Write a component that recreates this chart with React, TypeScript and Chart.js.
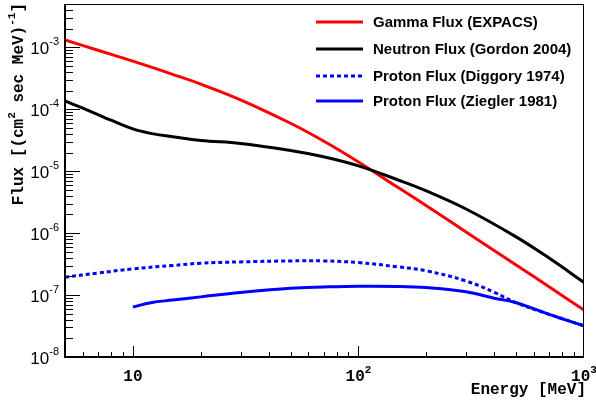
import { useEffect, useRef } from "react";
import { Chart, registerables } from "chart.js";

Chart.register(...registerables);

// ---- data ----
const gammaEnergy = [5, 7, 10, 15, 20, 30, 50, 70, 100, 150, 200, 300, 500, 700, 1000];
const gammaFlux = [1.31e-3, 8.95e-4, 5.97e-4, 3.66e-4, 2.54e-4, 1.42e-4, 5.94e-5, 3.07e-5, 1.41e-5, 5.43e-6, 2.77e-6, 1.045e-6, 3.07e-7, 1.36e-7, 5.73e-8];

const neutronEnergy = [5, 6, 7, 8, 10, 12, 15, 20, 30, 50, 70, 100, 150, 200, 300, 500, 700, 1000];
const neutronFlux = [1.366e-4, 1.038e-4, 8.18e-5, 6.65e-5, 4.81e-5, 4.08e-5, 3.61e-5, 3.13e-5, 2.8e-5, 2.16e-5, 1.71e-5, 1.22e-5, 7.21e-6, 4.8e-6, 2.45e-6, 8.69e-7, 3.95e-7, 1.6e-7];

const diggoryEnergy = [5, 7, 10, 15, 20, 30, 50, 70, 100, 150, 200, 300, 400, 500, 700, 1000];
const diggoryFlux = [1.945e-7, 2.265e-7, 2.65e-7, 3.0e-7, 3.27e-7, 3.43e-7, 3.56e-7, 3.56e-7, 3.34e-7, 2.85e-7, 2.46e-7, 1.69e-7, 1.107e-7, 7.53e-8, 4.89e-8, 3.18e-8];

const zieglerEnergy = [10, 12, 15, 20, 30, 50, 70, 100, 150, 200, 300, 400, 500, 700, 1000];
const zieglerFlux = [6.4e-8, 7.53e-8, 8.3e-8, 9.35e-8, 1.1e-7, 1.29e-7, 1.35e-7, 1.39e-7, 1.38e-7, 1.32e-7, 1.13e-7, 8.91e-8, 7.53e-8, 4.89e-8, 3.18e-8];

const seriesLabels = [
  "Gamma Flux (EXPACS)",
  "Neutron Flux (Gordon 2004)",
  "Proton Flux (Diggory 1974)",
  "Proton Flux (Ziegler 1981)",
];

const xMin = 5;
const xMax = 1000;
const yMin = 1e-8;
const yMax = 5e-3;

const xLabelValues = [10, 100, 1000];
const xLabelExponents = ["", "2", "3"];
const yLabelValues = [1e-8, 1e-7, 1e-6, 1e-5, 1e-4, 1e-3];
const yLabelExponents = ["-8", "-7", "-6", "-5", "-4", "-3"];

const xTitle = "Energy [MeV]";
const yTitleParts: [string, boolean][] = [
  ["Flux [(cm", false],
  ["2", true],
  [" sec MeV)", false],
  ["-1", true],
  ["]", false],
];

const toPoints = (xs: number[], ys: number[]) => xs.map((x, i) => ({ x, y: ys[i] }));

const MONO = "'Liberation Mono', 'DejaVu Sans Mono', monospace";
const SANS = "'Liberation Sans', Arial, sans-serif";

function drawSup(
  ctx: CanvasRenderingContext2D,
  base: string,
  exp: string,
  x: number,
  baseY: number,
  baseFont: string,
  supFont: string,
  raise: number,
  align: "center" | "right"
) {
  ctx.font = baseFont;
  const wb = ctx.measureText(base).width;
  ctx.font = supFont;
  const we = exp ? ctx.measureText(exp).width : 0;
  const total = wb + we;
  const start = align === "center" ? x - total / 2 : x - total;
  ctx.textAlign = "left";
  ctx.textBaseline = "alphabetic";
  ctx.font = baseFont;
  ctx.fillText(base, start, baseY);
  if (exp) {
    ctx.font = supFont;
    ctx.fillText(exp, start + wb, baseY - raise);
  }
}

const axesPlugin = {
  id: "rootAxes",
  afterDatasetsDraw(chart: any) {
    const ctx: CanvasRenderingContext2D = chart.ctx;
    const { left, right, top, bottom } = chart.chartArea;
    const xs = chart.scales.x;
    const ys = chart.scales.y;
    ctx.save();
    ctx.strokeStyle = "#000";
    ctx.fillStyle = "#000";
    // frame
    ctx.lineWidth = 1;
    ctx.strokeRect(left + 0.5, top + 0.5, right - left - 1, bottom - top - 1);
    ctx.lineWidth = 2;
    ctx.beginPath();
    ctx.moveTo(left, top);
    ctx.lineTo(left, bottom);
    ctx.lineTo(right, bottom);
    ctx.stroke();

    // y ticks
    ctx.lineWidth = 1;
    ctx.beginPath();
    for (let d = -9; d <= -2; d++) {
      for (let m = 1; m <= 9; m++) {
        const v = m * Math.pow(10, d);
        if (v <= yMin * 1.0001 || v >= yMax * 0.9999) continue;
        const py = Math.round(ys.getPixelForValue(v)) + 0.5;
        const len = m === 1 ? 15 : 8;
        ctx.moveTo(left, py);
        ctx.lineTo(left + len, py);
      }
    }
    // x ticks
    for (let d = 0; d <= 3; d++) {
      for (let m = 1; m <= 9; m++) {
        const v = m * Math.pow(10, d);
        if (v <= xMin * 1.0001 || v >= xMax * 0.9999) continue;
        const px = Math.round(xs.getPixelForValue(v)) + 0.5;
        const len = m === 1 ? 11 : 5;
        ctx.moveTo(px, bottom);
        ctx.lineTo(px, bottom - len);
      }
    }
    ctx.stroke();

    // y labels
    yLabelValues.forEach((v, i) => {
      const py = ys.getPixelForValue(v);
      drawSup(ctx, "10", yLabelExponents[i], 59, py + 7, `17px ${SANS}`, `11px ${SANS}`, 9, "right");
    });
    // x labels
    xLabelValues.forEach((v, i) => {
      const px = xs.getPixelForValue(v);
      drawSup(ctx, "10", xLabelExponents[i], px, 381, `bold 16px ${MONO}`, `bold 11px ${MONO}`, 8, "center");
    });

    // x title
    ctx.font = `bold 16px ${MONO}`;
    ctx.textAlign = "right";
    ctx.textBaseline = "alphabetic";
    ctx.fillText(xTitle, right + 2, 394);

    // y title (rotated, aligned to the top)
    let total = 0;
    yTitleParts.forEach(([t, sup]) => {
      ctx.font = sup ? `bold 11px ${MONO}` : `bold 16px ${MONO}`;
      total += ctx.measureText(t).width;
    });
    ctx.save();
    ctx.translate(23, 3 + total);
    ctx.rotate(-Math.PI / 2);
    ctx.textAlign = "left";
    let cx = 0;
    yTitleParts.forEach(([t, sup]) => {
      ctx.font = sup ? `bold 11px ${MONO}` : `bold 16px ${MONO}`;
      ctx.fillText(t, cx, sup ? -8 : 0);
      cx += ctx.measureText(t).width;
    });
    ctx.restore();
    ctx.restore();
  },
  afterDraw(chart: any) {
    const ctx: CanvasRenderingContext2D = chart.ctx;
    const rows = [22, 49, 76, 101];
    ctx.save();
    chart.data.datasets.forEach((ds: any, i: number) => {
      const y = rows[i];
      ctx.strokeStyle = ds.borderColor;
      ctx.lineWidth = ds.borderWidth;
      ctx.setLineDash(ds.borderDash || []);
      ctx.beginPath();
      ctx.moveTo(316, y);
      ctx.lineTo(363, y);
      ctx.stroke();
      ctx.setLineDash([]);
      ctx.fillStyle = "#000";
      ctx.font = `bold 15px ${SANS}`;
      ctx.textAlign = "left";
      ctx.textBaseline = "middle";
      ctx.fillText(ds.label, 373, y + 1);
    });
    ctx.restore();
  },
};

export default function App() {
  const canvasRef = useRef<HTMLCanvasElement | null>(null);

  useEffect(() => {
    if (!canvasRef.current) return;
    const common = {
      pointRadius: 0,
      borderWidth: 3,
      fill: false,
      tension: 0.4,
    };
    const chart = new Chart(canvasRef.current, {
      type: "line",
      data: {
        datasets: [
          { ...common, label: seriesLabels[0], data: toPoints(gammaEnergy, gammaFlux), borderColor: "#ff0000", order: 4 },
          { ...common, label: seriesLabels[1], data: toPoints(neutronEnergy, neutronFlux), borderColor: "#000000", order: 3 },
          { ...common, label: seriesLabels[2], data: toPoints(diggoryEnergy, diggoryFlux), borderColor: "#0000ff", borderDash: [4, 3], order: 2 },
          { ...common, label: seriesLabels[3], data: toPoints(zieglerEnergy, zieglerFlux), borderColor: "#0000ff", order: 1 },
        ],
      },
      options: {
        responsive: false,
        animation: false,
        devicePixelRatio: 1,
        layout: { padding: { left: 65, right: 12, top: 4, bottom: 47 } },
        plugins: { legend: { display: false }, tooltip: { enabled: false } },
        scales: {
          x: { type: "logarithmic", min: xMin, max: xMax, display: false },
          y: { type: "logarithmic", min: yMin, max: yMax, display: false },
        },
      },
      plugins: [axesPlugin],
    });
    return () => chart.destroy();
  }, []);

  return (
    <div style={{ position: "absolute", left: 0, top: 0, width: 596, height: 404, background: "#fff" }}>
      <canvas ref={canvasRef} width={596} height={404} style={{ display: "block" }} />
    </div>
  );
}
